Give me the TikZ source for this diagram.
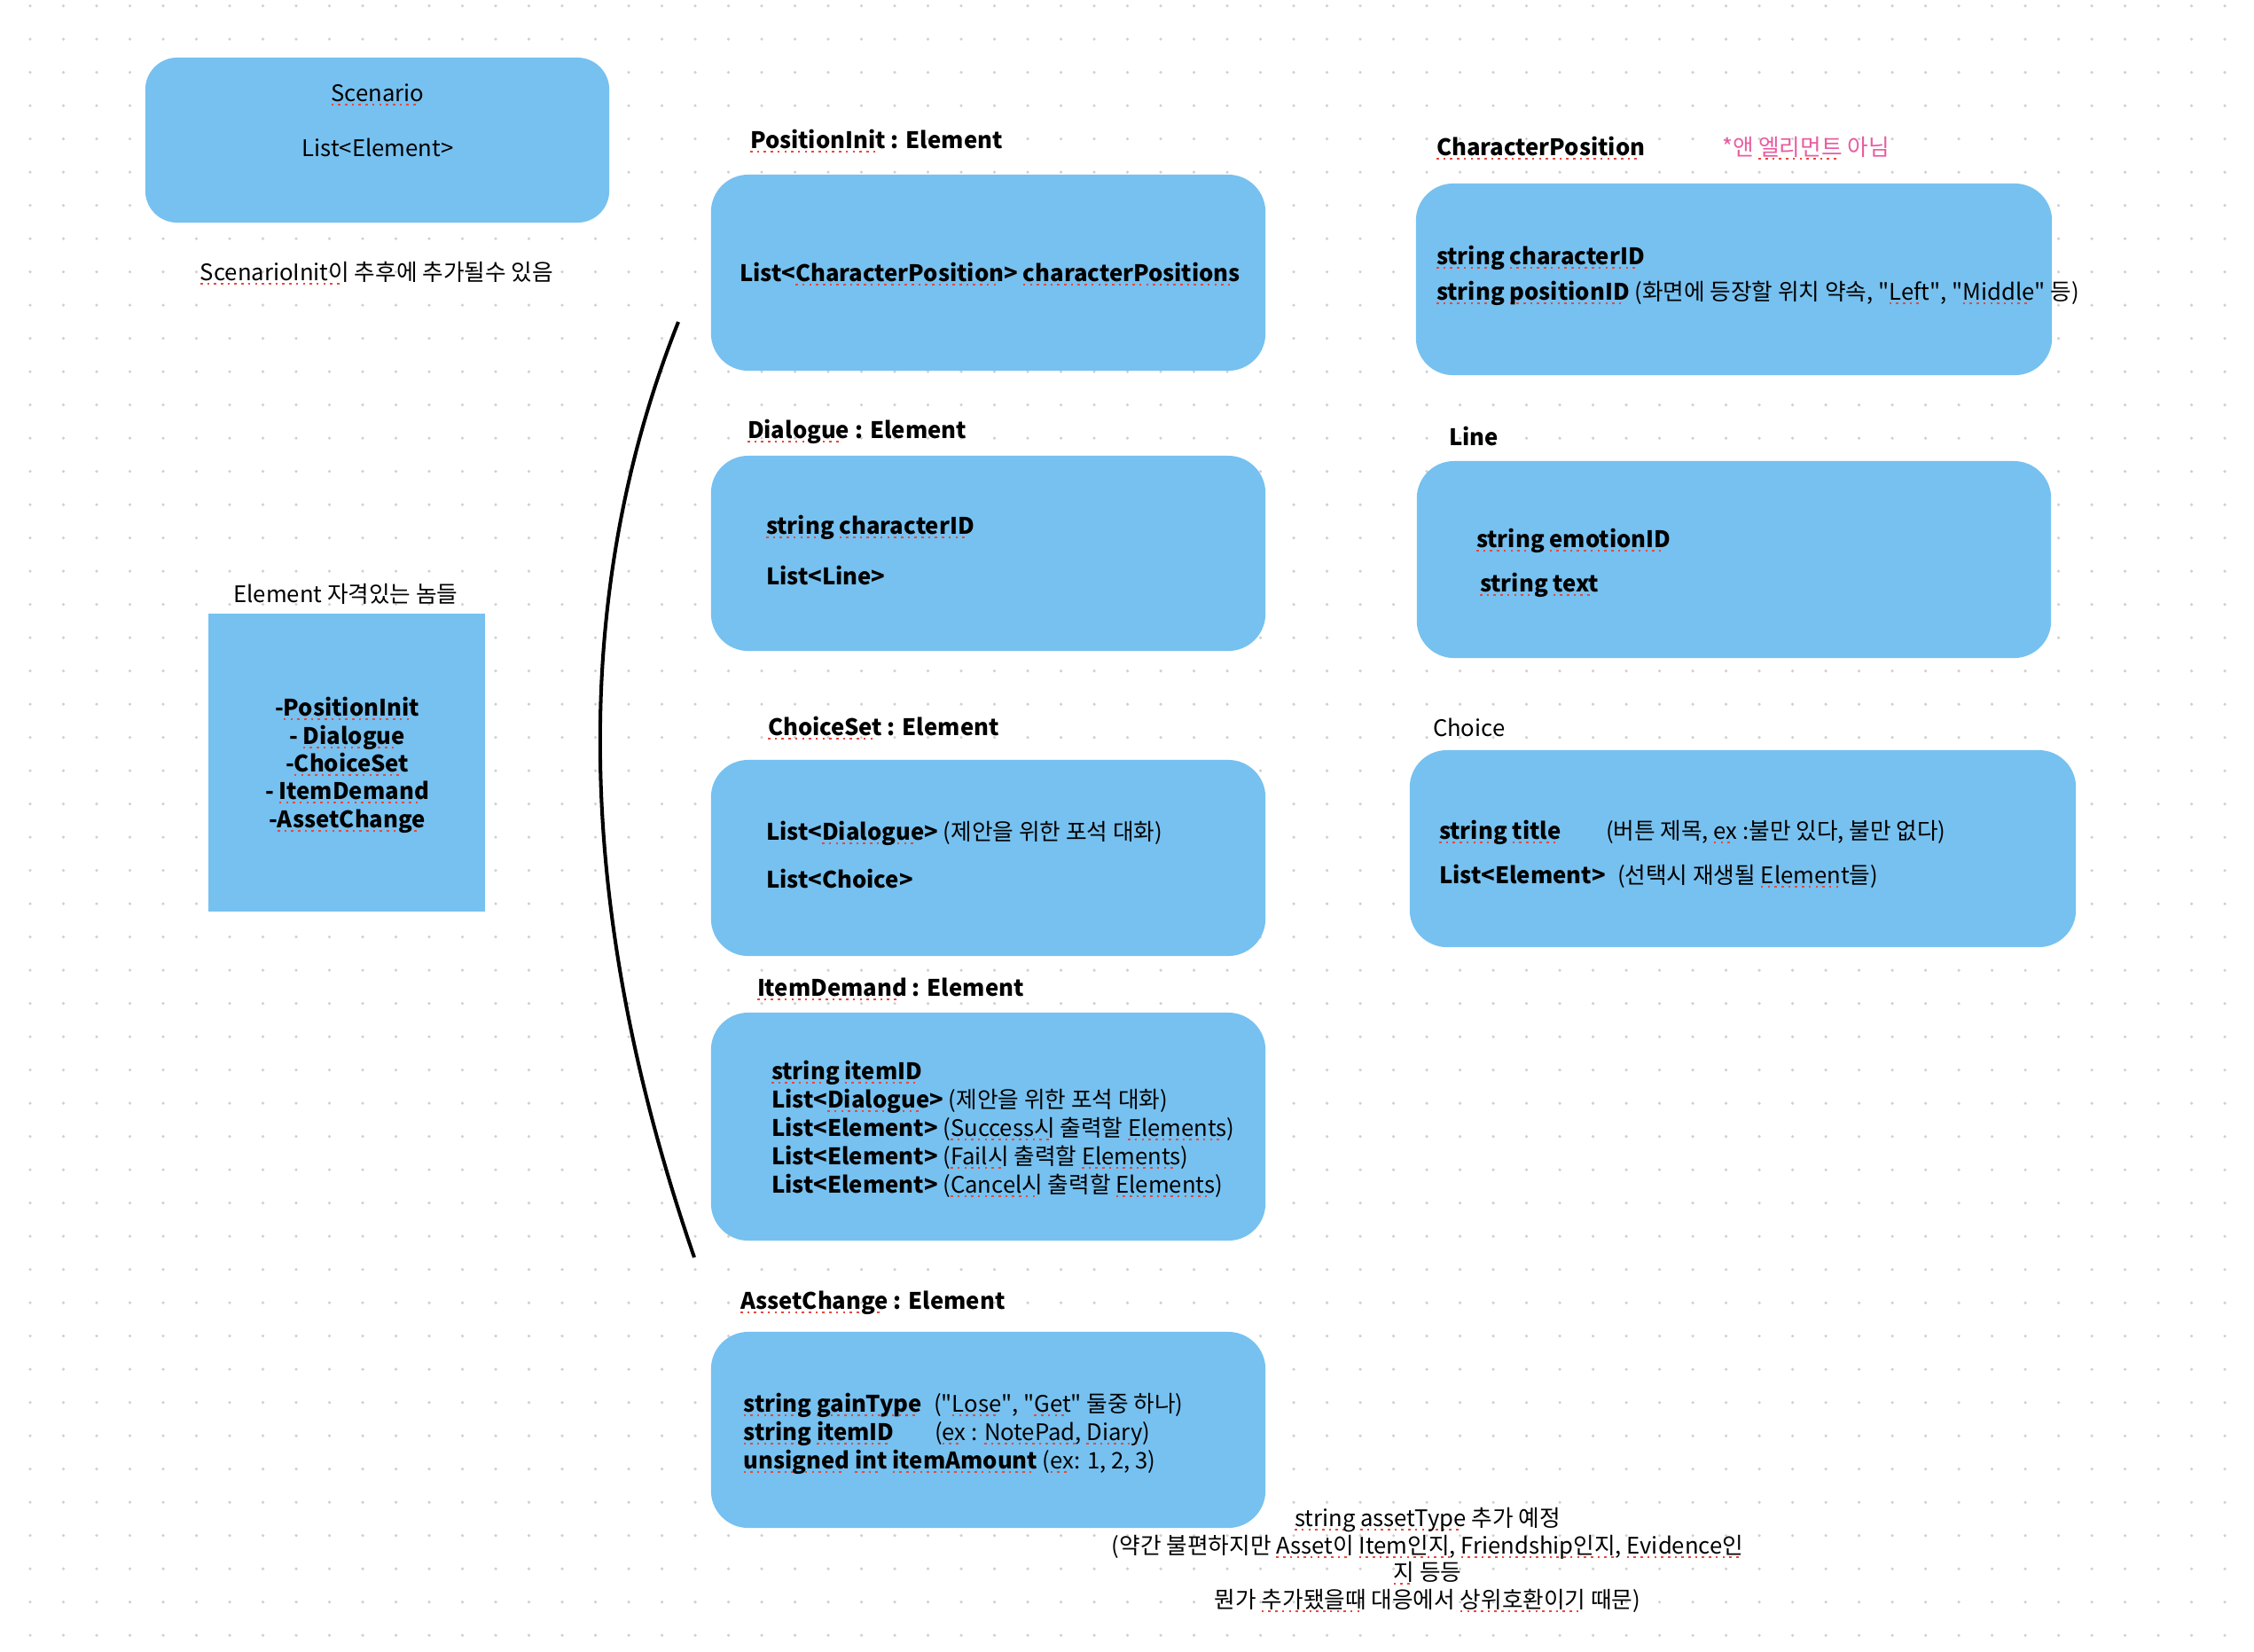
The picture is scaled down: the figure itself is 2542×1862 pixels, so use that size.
\documentclass[tikz,border=0pt]{standalone}
\usepackage{fontspec}
\setmainfont{Noto Sans CJK KR}
\definecolor{boxblue}{RGB}{118,193,240}
\definecolor{pinktxt}{RGB}{232,92,160}
\definecolor{dotc}{RGB}{208,208,208}
\definecolor{sqred}{RGB}{232,72,60}
\newsavebox\sqbox
\newcommand\sq[1]{\sbox\sqbox{#1}\rlap{\hbox to \wd\sqbox{\leaders\hbox{{\color{sqred}\rule[-0.21em]{0.1em}{0.1em}}\kern0.2em}\hfill}}\usebox\sqbox}
\newcommand\fs{\fontsize{7.3pt}{9pt}\selectfont}
\newcommand\q{\textquotedbl}
\begin{document}
\begin{tikzpicture}[x=0.01cm,y=-0.01cm,
  txt/.style={inner sep=0pt, outer sep=0pt, anchor=base west, font=\fs},
  btxt/.style={txt, font=\fs\bfseries},
  ctxt/.style={txt, anchor=base},
  bctxt/.style={btxt, anchor=base},
  box/.style={fill=boxblue, draw=none, rounded corners=0.42cm, minimum width=6.25cm, inner sep=0pt}]
\useasboundingbox (0,0) rectangle (2542,1862);
\fill[white] (0,0) rectangle (2542,1862);
\foreach \i in {0,...,66}{\foreach \j in {0,...,49}{\fill[dotc] (34+37.5*\i,6.7+37.5*\j) circle[radius=0.5pt];}}
% boxes
\node[box, rounded corners=0.36cm, minimum width=5.23cm, minimum height=1.86cm] (scen) at (425.5,158) {};
\node[box, rounded corners=0pt, minimum width=3.12cm, minimum height=3.36cm] (elist) at (391,860) {};
\node[box, minimum height=2.21cm] (pinit) at (1114.5,307.5) {};
\node[box, minimum height=2.20cm] (dial) at (1114.5,624) {};
\node[box, minimum height=2.21cm] (chset) at (1114.5,967.5) {};
\node[box, minimum height=2.57cm] (idem) at (1114.5,1270.5) {};
\node[box, minimum height=2.21cm] (asset) at (1114.5,1612.5) {};
\node[box, minimum width=7.17cm, minimum height=2.16cm] (cpos) at (1955.5,315) {};
\node[box, minimum width=7.15cm, minimum height=2.22cm] (linebox) at (1955.5,631) {};
\node[box, minimum width=7.51cm, minimum height=2.22cm] (choice) at (1965.5,957) {};
% bracket arc
\coordinate (arcA) at (765,363);
\coordinate (arcB) at (783,1418);
\draw[line width=1.15pt] (arcA) .. controls (641.7,674) and (647.7,1025.7) .. (arcB);
% scenario
\node[ctxt] (scenT) at (426,114) {\sq{Scenario}};
\node[ctxt] (scenL) at (426,176) {List<Element>};
\node[ctxt] (scenN) at (425,316) {\sq{ScenarioInit이} 추후에 추가될수 있음};
% element list
\node[ctxt] (elLab) at (390,679) {Element 자격있는 놈들};
\node[bctxt] (el1) at (391.5,807) {-\sq{PositionInit}};
\node[bctxt] (el2) at (391.5,839) {- \sq{Dialogue}};
\node[bctxt] (el3) at (391.5,870) {-\sq{ChoiceSet}};
\node[bctxt] (el4) at (391.5,901) {- \sq{ItemDemand}};
\node[bctxt] (el5) at (391.5,933) {-\sq{AssetChange}};
% PositionInit
\node[btxt] (pinitLab) at (846,167) {\sq{PositionInit} : Element};
\node[btxt] (pinitT) at (834,317) {List<\sq{CharacterPosition}> \sq{characterPositions}};
% Dialogue
\node[btxt] (dialLab) at (843,494) {\sq{Dialogue} : Element};
\node[btxt] (dialT1) at (864,602) {\sq{string} \sq{characterID}};
\node[btxt] (dialT2) at (864,659) {List<Line>};
% ChoiceSet
\node[btxt] (chsetLab) at (866,829) {\sq{ChoiceSet} : Element};
\node[txt] (chsetT1) at (864,947) {{\bfseries List<\sq{Dialogue}>} (제안을 위한 포석 대화)};
\node[btxt] (chsetT2) at (864,1001) {List<Choice>};
% ItemDemand
\node[btxt] (idemLab) at (854,1123) {\sq{ItemDemand} : Element};
\node[btxt] (idemT1) at (870,1217) {\sq{string} \sq{itemID}};
\node[txt] (idemT2) at (870,1249) {{\bfseries List<\sq{Dialogue}>} (제안을 위한 포석 대화)};
\node[txt] (idemT3) at (870,1281) {{\bfseries List<Element>} (\sq{Success시} 출력할 \sq{Elements})};
\node[txt] (idemT4) at (870,1313) {{\bfseries List<Element>} (\sq{Fail시} 출력할 \sq{Elements})};
\node[txt] (idemT5) at (870,1345) {{\bfseries List<Element>} (\sq{Cancel시} 출력할 \sq{Elements})};
% AssetChange
\node[btxt] (assetLab) at (835,1476) {\sq{AssetChange} : Element};
\node[btxt] (assetT1) at (838.5,1592) {\sq{string} \sq{gainType}};
\node[txt] (assetP1) at (1053,1592) {(\q\sq{Lose}\q, \q\sq{Get}\q{} 둘중 하나)};
\node[btxt] (assetT2) at (838.5,1624) {\sq{string} \sq{itemID}};
\node[txt] (assetP2) at (1054,1624) {(\sq{ex} : \sq{NotePad,} \sq{Diary})};
\node[txt] (assetT3) at (838.5,1656) {{\bfseries\sq{unsigned} \sq{int} \sq{itemAmount}} (\sq{ex}: 1, 2, 3)};
% note
\node[ctxt] (note1) at (1610,1721) {\sq{string} \sq{assetType} 추가 예정};
\node[ctxt] (note2) at (1610,1752) {(약간 불편하지만 \sq{Asset이} \sq{Item인지,} \sq{Friendship인지,} \sq{Evidence인}};
\node[ctxt] (note3) at (1610,1782) {\sq{지} 등등};
\node[ctxt] (note4) at (1610,1813) {뭔가 \sq{추가됐을때} 대응에서 \sq{상위호환이기} 때문)};
% CharacterPosition
\node[btxt] (cposLab) at (1620,175) {\sq{CharacterPosition}};
\node[txt, text=pinktxt] (cposNote) at (1942,175) {*앤 \sq{엘리먼트} 아님};
\node[btxt] (cposT1) at (1620,298) {\sq{string} \sq{characterID}};
\node[txt] (cposT2) at (1620,338) {{\bfseries\sq{string} \sq{positionID}} (화면에 등장할 위치 약속, \q\sq{Left}\q, \q\sq{Middle}\q{} 등)};
% Line
\node[btxt] (lineLab) at (1634,502) {Line};
\node[btxt] (lineT1) at (1665,617) {\sq{string} \sq{emotionID}};
\node[btxt] (lineT2) at (1669,667) {\sq{string} \sq{text}};
% Choice
\node[txt] (choiceLab) at (1616,830) {Choice};
\node[btxt] (choiceT1) at (1623,946) {\sq{string} \sq{title}};
\node[txt] (choiceP1) at (1811,946) {(버튼 제목, \sq{ex} :불만 있다, 불만 없다)};
\node[btxt] (choiceT2) at (1623,996) {List<Element>};
\node[txt] (choiceP2) at (1824,996) {(선택시 재생될 \sq{Element}들)};
\end{tikzpicture}
\end{document}
